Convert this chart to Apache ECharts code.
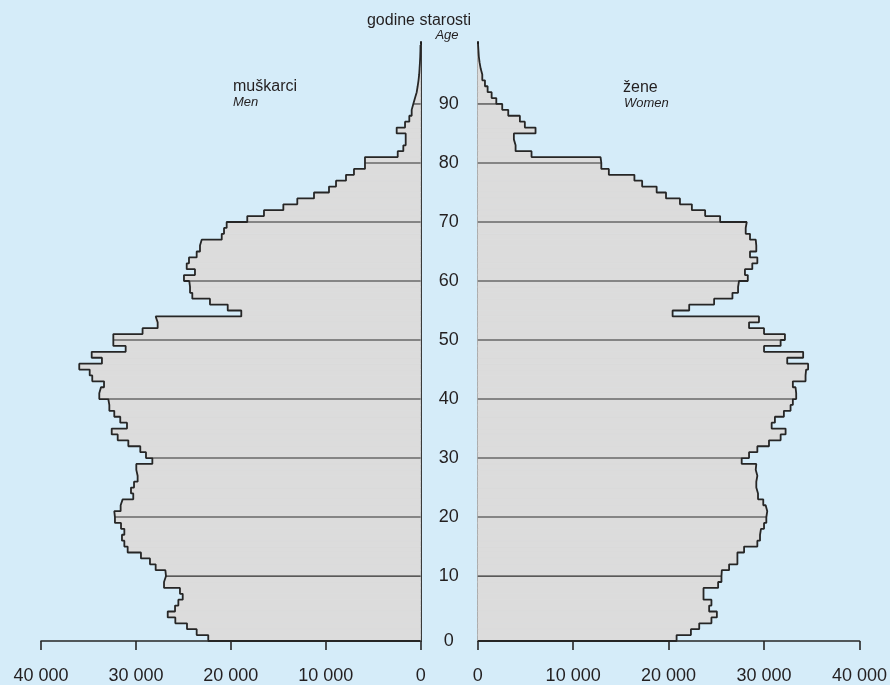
<!DOCTYPE html>
<html>
<head>
<meta charset="utf-8">
<script src="https://cdn.jsdelivr.net/npm/echarts@6/dist/echarts.min.js"></script>
<style>
  html, body { margin: 0; padding: 0; background: #d5ecf9; }
  #pyramid { width: 890px; height: 685px; }
</style>
</head>
<body>
<div id="pyramid"></div>
<script>
// population by single year of age, 0 .. 100
const men = [22380, 23600, 24620, 25850, 26650, 25880, 25530, 25070, 25360, 27040,
  26830, 26900, 27920, 28520, 29470, 30870, 31220, 31470, 31220, 31570,
  32210, 32280, 31610, 31400, 30280, 30520, 30200, 29820, 29960, 29960,
  28270, 28940, 29540, 30800, 31920, 32550, 30940, 31650, 32280, 32800,
  32910, 33860, 33680, 33360, 34600, 34870, 35970, 33580, 34660, 31080,
  32380, 32380, 29300, 27710, 27920, 18900, 20330, 22200, 24060, 24300,
  24380, 24940, 23780, 24650, 24410, 23600, 23250, 23070, 20960, 20720,
  20440, 18270, 16510, 14470, 13000, 11240, 9660, 8920, 7870, 7030,
  5870, 5870, 2420, 1830, 1580, 1580, 2530, 1650, 1200, 950,
  780, 600, 420, 320, 230, 160, 120, 80, 50, 30, 20];
const women = [20840, 22340, 23210, 24490, 25060, 24250, 24490, 23660, 23660, 25190,
  25540, 25580, 26340, 27210, 27210, 27910, 29300, 29580, 29680, 30000,
  30240, 30340, 30170, 29920, 29370, 29190, 29190, 29300, 29130, 29190,
  27660, 28430, 29300, 30520, 31740, 32260, 30800, 31140, 32080, 32780,
  33020, 33370, 33300, 33020, 34350, 34410, 34620, 32430, 34100, 30000,
  31740, 32190, 30000, 28430, 29470, 20420, 22160, 24770, 26690, 27280,
  27380, 28300, 28000, 28770, 29300, 28530, 29190, 29130, 28530, 28080,
  28190, 25400, 23830, 22440, 21190, 19730, 18750, 17230, 16420, 13740,
  12950, 12870, 5640, 3970, 3790, 3790, 6060, 4940, 4420, 3200,
  2570, 1950, 1460, 1040, 760, 480, 310, 200, 120, 80, 40];
// where the age labels / decade lines sit on the age scale
const ageTickPos = [0, 11, 21, 31, 41, 51, 61, 71, 81, 91];
const ageTickLabels = ['0', '10', '20', '30', '40', '50', '60', '70', '80', '90'];

const FONT = 'Liberation Sans, Arial, sans-serif';
const INK = '#231f20';

function fmtThousands(v) {
  return String(v).replace(/\B(?=(\d{3})+(?!\d))/g, ' ');
}

// [value, age] pairs
function barData(vals) {
  return vals.map((v, a) => [v, a]);
}
function stepOutline(vals) {
  let pts = [[0, 0]];
  vals.forEach((v, a) => { pts.push([v, a]); pts.push([v, a + 1]); });
  pts.push([0, vals.length]);
  return pts;
}
function decadeData(vals) {
  return ageTickPos.filter(p => p > 0).map(p => [vals[p - 1], p]);
}

function renderBar(params, api) {
  const v = api.value(0), a = api.value(1);
  const p0 = api.coord([0, a]);
  const p1 = api.coord([v, a + 1]);
  return {
    type: 'rect',
    shape: { x: Math.min(p0[0], p1[0]), y: p1[1], width: Math.abs(p1[0] - p0[0]), height: p0[1] - p1[1] },
    style: { fill: '#dcdcdc', stroke: '#dcdcdc', lineWidth: 0.8 }
  };
}
function renderDecade(params, api) {
  const p0 = api.coord([0, api.value(1)]);
  const p1 = api.coord([api.value(0), api.value(1)]);
  return {
    type: 'line',
    shape: { x1: p0[0], y1: p0[1], x2: p1[0], y2: p1[1] },
    style: { stroke: '#2e2e2e', lineWidth: 1.1 }
  };
}

var myChart = echarts.init(document.getElementById('pyramid'));

const xLabel = {
  color: INK, fontSize: 18, fontFamily: FONT, margin: 16,
  formatter: v => fmtThousands(v)
};

var option = {
  backgroundColor: '#d5ecf9',
  animation: false,
  grid: [
    { left: 41, top: 42, width: 379.7, height: 599 },
    { left: 477.7, top: 42, width: 383, height: 599 }
  ],
  xAxis: [
    {
      gridIndex: 0, type: 'value', min: 0, max: 40000, interval: 10000, inverse: true,
      position: 'bottom', offset: 10,
      axisLine: { show: true, lineStyle: { color: '#262626', width: 1.6 } },
      axisTick: { show: true, length: 9, lineStyle: { color: '#262626', width: 1.6 } },
      axisLabel: xLabel,
      splitLine: { show: false }
    },
    {
      gridIndex: 1, type: 'value', min: 0, max: 40000, interval: 10000,
      position: 'bottom', offset: 10,
      axisLine: { show: true, lineStyle: { color: '#262626', width: 1.6 } },
      axisTick: { show: true, length: 9, lineStyle: { color: '#262626', width: 1.6 } },
      axisLabel: xLabel,
      splitLine: { show: false }
    }
  ],
  yAxis: [
    {
      gridIndex: 0, type: 'value', min: 0, max: 101.5, position: 'right',
      axisLine: { show: true, onZero: false, lineStyle: { color: '#1e1e1e', width: 2 } },
      axisTick: { show: false },
      axisLabel: { show: false },
      splitLine: { show: false }
    },
    {
      gridIndex: 1, type: 'value', min: 0, max: 101.5, position: 'left',
      axisLine: { show: true, onZero: false, lineStyle: { color: '#1e1e1e', width: 2 } },
      axisTick: { show: false },
      axisLabel: {
        color: INK, fontSize: 18, fontFamily: FONT, margin: 29, align: 'center',
        customValues: ageTickPos,
        formatter: v => ageTickLabels[ageTickPos.indexOf(v)] || ''
      },
      splitLine: { show: false }
    }
  ],
  graphic: [
    { type: 'text', x: 419, y: 21, style: { text: 'godine starosti', fill: INK, font: '16px ' + FONT, align: 'center', verticalAlign: 'middle' } },
    { type: 'text', x: 447, y: 35.5, style: { text: 'Age', fill: INK, font: 'italic 13px ' + FONT, align: 'center', verticalAlign: 'middle' } },
    { type: 'text', x: 233, y: 87, style: { text: 'muškarci', fill: INK, font: '16px ' + FONT, align: 'left', verticalAlign: 'middle' } },
    { type: 'text', x: 233, y: 102.5, style: { text: 'Men', fill: INK, font: 'italic 13px ' + FONT, align: 'left', verticalAlign: 'middle' } },
    { type: 'text', x: 623, y: 87.5, style: { text: 'žene', fill: INK, font: '16px ' + FONT, align: 'left', verticalAlign: 'middle' } },
    { type: 'text', x: 624, y: 103, style: { text: 'Women', fill: INK, font: 'italic 13px ' + FONT, align: 'left', verticalAlign: 'middle' } }
  ],
  series: [
    { type: 'custom', xAxisIndex: 0, yAxisIndex: 0, data: barData(men), renderItem: renderBar, silent: true, z: 1 },
    { type: 'custom', xAxisIndex: 1, yAxisIndex: 1, data: barData(women), renderItem: renderBar, silent: true, z: 1 },
    { type: 'custom', xAxisIndex: 0, yAxisIndex: 0, data: decadeData(men), renderItem: renderDecade, silent: true, z: 2 },
    { type: 'custom', xAxisIndex: 1, yAxisIndex: 1, data: decadeData(women), renderItem: renderDecade, silent: true, z: 2 },
    {
      type: 'line', xAxisIndex: 0, yAxisIndex: 0, data: stepOutline(men),
      showSymbol: false, symbol: 'none', silent: true, z: 3,
      lineStyle: { color: '#262626', width: 1.8 }
    },
    {
      type: 'line', xAxisIndex: 1, yAxisIndex: 1, data: stepOutline(women),
      showSymbol: false, symbol: 'none', silent: true, z: 3,
      lineStyle: { color: '#262626', width: 1.8 }
    }
  ]
};
myChart.setOption(option);
</script>
</body>
</html>
